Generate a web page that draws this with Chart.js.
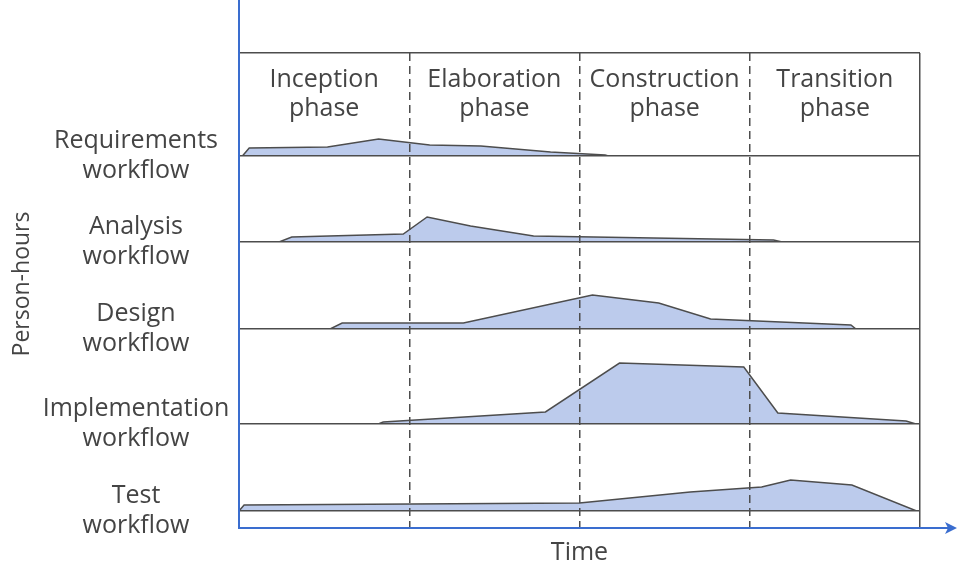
<!DOCTYPE html>
<html>
<head>
<meta charset="utf-8">
<script src="https://cdn.jsdelivr.net/npm/chart.js@4"></script>
<style>
  html, body { margin: 0; background: #fff; }
</style>
</head>
<body>
<canvas id="chart" width="957" height="570"></canvas>
<script>
// phases along the time axis (one unit per phase)
const phases = [["Inception", "phase"], ["Elaboration", "phase"], ["Construction", "phase"], ["Transition", "phase"]];
const workflows = [["Requirements", "workflow"], ["Analysis", "workflow"], ["Design", "workflow"], ["Implementation", "workflow"], ["Test", "workflow"]];

// effort curves: time in phases, person-hours (relative)
const reqTime = [0.02, 0.06, 0.52, 0.82, 1.12, 1.42, 1.83, 2.15, 2.17];
const reqHours = [0, 8, 9, 17, 11, 10, 4, 1, 0];
const anaTime = [0.235, 0.31, 0.965, 1.105, 1.36, 1.73, 3.14, 3.19];
const anaHours = [0, 5, 8, 25, 16, 6, 2, 0];
const desTime = [0.535, 0.606, 1.318, 2.076, 2.465, 2.77, 3.594, 3.624];
const desHours = [0, 6, 6, 34, 26, 10, 4, 0];
const impTime = [0.818, 0.847, 1.8, 2.235, 2.965, 3.165, 3.918, 3.976];
const impHours = [0, 2, 12, 61, 57, 11, 3, 0];
const testTime = [0, 0.03, 2.0, 2.65, 3.07, 3.24, 3.6, 3.98];
const testHours = [0, 6, 8, 19, 24, 31, 26, 0];

const times = [reqTime, anaTime, desTime, impTime, testTime];
const hours = [reqHours, anaHours, desHours, impHours, testHours];

const rowAxes = ["yReq", "yAna", "yDes", "yImp", "yTest"];
const rowSpan = [103, 86, 87, 95, 87];

const font = "'Open Sans', sans-serif";
const textGray = "#444444";
const lineGray = "#4d4d4d";
const fillBlue = "#bccbec";
const axisBlue = "#3a6dcf";

function rowAxis(span, weight, tickValues) {
  return {
    type: "linear",
    position: "left",
    stack: "rows",
    stackWeight: span,
    weight,
    min: 0,
    max: span,
    afterBuildTicks: axis => { axis.ticks = tickValues.map(v => ({ value: v })); },
    ticks: { display: false },
    grid: { color: lineGray, lineWidth: 1.5, drawTicks: false, z: 1 },
    border: { display: false }
  };
}

const scales = {
  x: {
    type: "linear",
    min: 0,
    max: 4,
    ticks: { display: false, stepSize: 1 },
    grid: {
      color: c => (c.tick && c.tick.value === 0) ? "rgba(0,0,0,0)" : lineGray,
      lineWidth: 1.5,
      drawTicks: false,
      z: 1
    },
    border: {
      display: false,
      dash: c => (c.tick && c.tick.value > 0 && c.tick.value < 4) ? [8, 5] : []
    },
    title: { display: true, text: "Time", color: textGray, font: { family: font, size: 25 }, padding: { top: 10, bottom: 2 } }
  }
};
rowAxes.forEach((id, i) => {
  scales[id] = rowAxis(rowSpan[i], 6 - i, i === 0 ? [0, rowSpan[0]] : [0]);
});
scales.yPad = rowAxis(17, 0, []);

// labels and arrowed axes
const annotate = {
  id: "annotate",
  afterDraw(chart) {
    const { ctx, chartArea: area } = chart;
    ctx.save();
    ctx.strokeStyle = axisBlue;
    ctx.lineWidth = 2;
    ctx.beginPath();
    ctx.moveTo(area.left, 0);
    ctx.lineTo(area.left, area.bottom);
    ctx.lineTo(948, area.bottom);
    ctx.stroke();
    ctx.fillStyle = axisBlue;
    ctx.beginPath();
    ctx.moveTo(957, area.bottom);
    ctx.lineTo(945, area.bottom - 6);
    ctx.lineTo(948, area.bottom);
    ctx.lineTo(945, area.bottom + 6);
    ctx.closePath();
    ctx.fill();

    ctx.fillStyle = textGray;
    ctx.font = "25px " + font;
    ctx.textAlign = "center";
    ctx.textBaseline = "middle";
    phases.forEach((lines, i) => {
      const x = chart.scales.x.getPixelForValue(i + 0.5);
      lines.forEach((t, j) => ctx.fillText(t, x, area.top + 27 + j * 29));
    });
    workflows.forEach((lines, i) => {
      const y = chart.scales[rowAxes[i]].getPixelForValue(0);
      lines.forEach((t, j) => ctx.fillText(t, 136, y - 15 + j * 30));
    });
    ctx.font = "23px " + font;
    ctx.translate(22, 284);
    ctx.rotate(-Math.PI / 2);
    ctx.fillText("Person-hours", 0, 0);
    ctx.restore();
  }
};

new Chart(document.getElementById("chart"), {
  type: "line",
  data: {
    datasets: workflows.map((w, i) => ({
      label: w.join(" "),
      data: times[i].map((t, k) => ({ x: t, y: hours[i][k] })),
      yAxisID: rowAxes[i],
      fill: "origin",
      backgroundColor: fillBlue,
      borderColor: lineGray,
      borderWidth: 1.5,
      pointRadius: 0,
      tension: 0
    }))
  },
  options: {
    responsive: false,
    animation: false,
    layout: { padding: { left: 239, right: 37, top: 53, bottom: 0 } },
    plugins: { legend: { display: false }, tooltip: { enabled: false } },
    scales
  },
  plugins: [annotate]
});
</script>
</body>
</html>
